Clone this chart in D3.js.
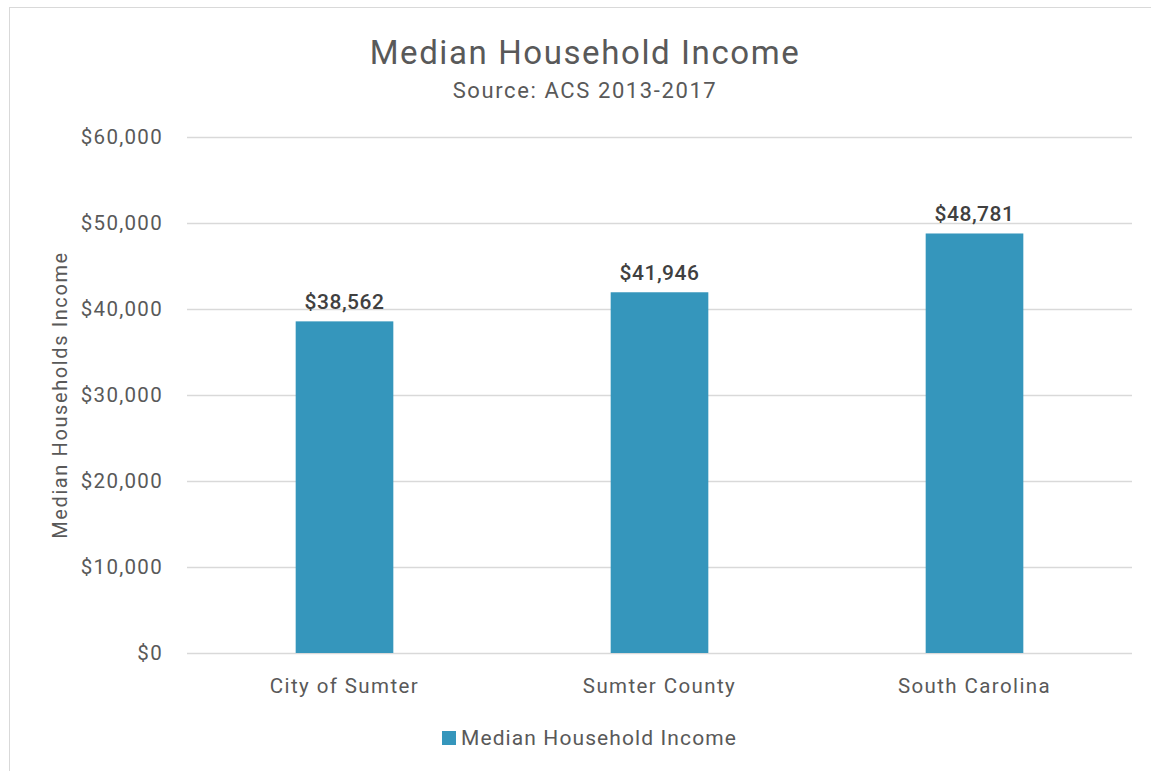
<!DOCTYPE html>
<html lang="en">
<head>
<meta charset="UTF-8">
<title>Median Household Income</title>
<script src="https://d3js.org/d3.v7.min.js"></script>
<style>
    body { margin: 0; background: #fff; font-family: "Roboto", "DejaVu Sans", sans-serif; }
    svg text { fill: #595959; }
</style>
</head>
<body>
<svg id="chart"></svg>
<script>
    const places = ["City of Sumter", "Sumter County", "South Carolina"];
    const incomes = [38562, 41946, 48781];
    const yTicks = [0, 10000, 20000, 30000, 40000, 50000, 60000];

    const width = 1151, height = 771;
    const margin = {top: 137, right: 19, bottom: 118, left: 187};

    const svg = d3.select("#chart").attr("width", width).attr("height", height);

    // outer chart frame
    svg.append("rect")
        .attr("x", 9.5).attr("y", 7.5)
        .attr("width", 1160).attr("height", 780)
        .attr("fill", "none").attr("stroke", "#d9d9d9");

    const x = d3.scaleBand()
        .domain(places)
        .range([margin.left, width - margin.right])
        .paddingInner(0.69).paddingOuter(0.345);

    const y = d3.scaleLinear()
        .domain([0, 60000])
        .range([height - margin.bottom, margin.top]);

    const fmt = d => "$" + d3.format(",")(d);

    // grid
    svg.append("g")
        .selectAll("line")
        .data(yTicks)
        .join("line")
        .attr("x1", margin.left).attr("x2", width - margin.right)
        .attr("y1", d => Math.round(y(d)) + 0.5).attr("y2", d => Math.round(y(d)) + 0.5)
        .attr("stroke", "#d9d9d9").attr("stroke-width", 1.5);

    // y tick labels
    svg.append("g")
        .selectAll("text")
        .data(yTicks)
        .join("text")
        .attr("x", 163).attr("y", d => y(d) + 7)
        .attr("text-anchor", "end")
        .style("font-size", "20.5px")
        .style("letter-spacing", "1.3px")
        .text(fmt);

    // bars
    svg.append("g")
        .selectAll("rect")
        .data(incomes)
        .join("rect")
        .attr("x", (d, i) => x(places[i]))
        .attr("y", d => y(d))
        .attr("width", x.bandwidth())
        .attr("height", d => y(0) - y(d))
        .attr("fill", "#3596bc");

    // value labels
    svg.append("g")
        .selectAll("text")
        .data(incomes)
        .join("text")
        .attr("x", (d, i) => x(places[i]) + x.bandwidth() / 2)
        .attr("y", d => y(d) - 12)
        .attr("text-anchor", "middle")
        .style("font-size", "21px")
        .style("font-weight", 500)
        .style("letter-spacing", "0.5px")
        .style("fill", "#404040")
        .text(fmt);

    // x labels
    svg.append("g")
        .selectAll("text")
        .data(places)
        .join("text")
        .attr("x", d => x(d) + x.bandwidth() / 2)
        .attr("y", 693)
        .attr("text-anchor", "middle")
        .style("font-size", "20.5px")
        .style("letter-spacing", "1.4px")
        .text(d => d);

    // titles
    svg.append("text")
        .attr("x", 585).attr("y", 64)
        .attr("text-anchor", "middle")
        .style("font-size", "33px")
        .style("letter-spacing", "1.6px")
        .text("Median Household Income");
    svg.append("text")
        .attr("x", 585).attr("y", 98)
        .attr("text-anchor", "middle")
        .style("font-size", "22px")
        .style("letter-spacing", "1.6px")
        .text("Source: ACS 2013-2017");

    // y axis title
    svg.append("text")
        .attr("transform", "translate(67," + (y(30000)) + ") rotate(-90)")
        .attr("text-anchor", "middle")
        .style("font-size", "20px")
        .style("letter-spacing", "1.6px")
        .text("Median Households Income");

    // legend
    const legend = svg.append("g").attr("transform", "translate(442,731)");
    legend.append("rect").attr("width", 14).attr("height", 14).attr("fill", "#3596bc");
    legend.append("text").attr("x", 19).attr("y", 14)
        .style("font-size", "21px")
        .style("letter-spacing", "1.1px")
        .text("Median Household Income");
</script>
</body>
</html>
